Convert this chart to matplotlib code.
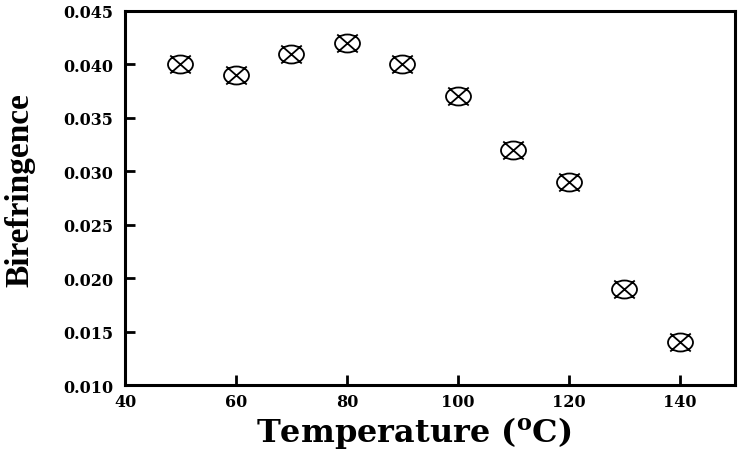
import matplotlib
matplotlib.use("Agg")
import matplotlib.pyplot as plt
from matplotlib.path import Path
from matplotlib.transforms import Affine2D

# --- Daten ---
temperature = [50, 60, 70, 80, 90, 100, 110, 120, 130, 140]
birefringence = [0.040, 0.039, 0.041, 0.042, 0.040, 0.037, 0.032, 0.029, 0.019, 0.014]
x_ticks = [40, 60, 80, 100, 120, 140]
y_ticks = [0.010, 0.015, 0.020, 0.025, 0.030, 0.035, 0.040, 0.045]

# Marker: Ellipse mit Kreuz
ellipse = Path.unit_circle().transformed(Affine2D().scale(1.0, 0.72))
cross = Path([(-0.82, -0.72), (0.82, 0.72), (-0.82, 0.72), (0.82, -0.72)],
             [Path.MOVETO, Path.LINETO, Path.MOVETO, Path.LINETO])
marker = Path.make_compound_path(ellipse, cross)

plt.rcParams["font.family"] = ["DejaVu Serif"]
plt.rcParams["font.weight"] = "bold"
plt.rcParams["mathtext.fontset"] = "custom"
plt.rcParams["mathtext.rm"] = "DejaVu Serif:bold"

fig = plt.figure(figsize=(7.46, 4.52), dpi=100)
ax = fig.add_axes([0.1676, 0.146, 0.8177, 0.8275])

ax.plot(temperature, birefringence, linestyle="none", marker=marker,
        markersize=18, markerfacecolor="none", markeredgecolor="black",
        markeredgewidth=1.3)

ax.set_xlim(40, 150)
ax.set_ylim(0.010, 0.045)
ax.set_xticks(x_ticks)
ax.set_yticks(y_ticks)
ax.set_yticklabels(["%.3f" % v for v in y_ticks])

for s in ax.spines.values():
    s.set_linewidth(2.2)
ax.tick_params(direction="in", length=7, width=2, labelsize=11.5)
ax.tick_params(axis="y", pad=8.5)
ax.tick_params(axis="x", pad=5.5)

ax.set_xlabel(r"Temperature ($\mathregular{^o}$C)", fontsize=23, fontweight="bold")
ax.xaxis.label.set_va("baseline")
ax.xaxis.set_label_coords(0.473, -0.1497)
ax.set_ylabel("Birefringence", fontsize=24, fontweight="bold",
              family=["Liberation Serif", "DejaVu Serif"])
ax.yaxis.label.set_va("center")
ax.yaxis.set_label_coords(-0.172, 0.525)

fig.savefig("out.png", dpi=100)
